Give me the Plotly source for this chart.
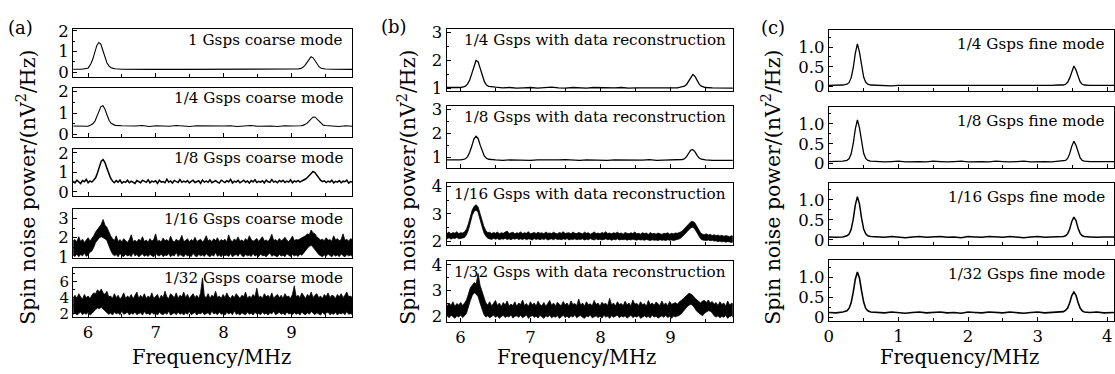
import numpy as np
import plotly.graph_objects as go

# ---------------- data ----------------
# frequency samples (MHz) for the cleaner traces
FREQ_AB = [5.78, 5.9, 6.0, 6.04, 6.07, 6.10, 6.13, 6.16, 6.19, 6.22, 6.25, 6.28, 6.31, 6.34, 6.37, 6.40,
           6.5, 6.6, 6.7, 6.8, 6.9, 7.0, 7.1, 7.2, 7.3, 7.4, 7.5, 7.6, 7.7, 7.8, 7.9, 8.0, 8.1, 8.2, 8.3,
           8.4, 8.5, 8.6, 8.7, 8.8, 8.9, 9.0, 9.1,
           9.14, 9.17, 9.20, 9.23, 9.26, 9.29, 9.32, 9.35, 9.38, 9.41, 9.44, 9.47, 9.50,
           9.6, 9.7, 9.8, 9.9]
FREQ_C = [0.0, 0.1, 0.2, 0.26, 0.29, 0.32, 0.35, 0.38, 0.41, 0.44, 0.47, 0.50, 0.53, 0.56,
          0.6, 0.7, 0.8, 0.9, 1.0, 1.1, 1.2, 1.3, 1.4, 1.5, 1.6, 1.7, 1.8, 1.9, 2.0, 2.1, 2.2, 2.3,
          2.4, 2.5, 2.6, 2.7, 2.8, 2.9, 3.0, 3.1, 3.2, 3.3,
          3.37, 3.40, 3.43, 3.46, 3.49, 3.52, 3.55, 3.58, 3.61, 3.64, 3.67,
          3.75, 3.85, 3.95, 4.1]
# evenly spaced spectrum bins for the noisy (undersampled) traces
FREQ_NOISY = np.linspace(5.78, 9.9, 150)

# (a) coarse mode
A_1GSPS = [0.15, 0.15, 0.2, 0.4, 0.64, 0.98, 1.3, 1.44, 1.35, 1.04, 0.7, 0.45, 0.3, 0.22, 0.19, 0.17,
           0.15, 0.14, 0.14, 0.15, 0.14, 0.14, 0.13, 0.14, 0.14, 0.14, 0.14, 0.13, 0.14, 0.14, 0.13, 0.14,
           0.14, 0.14, 0.13, 0.14, 0.14, 0.14, 0.14, 0.14, 0.15, 0.15, 0.16,
           0.19, 0.24, 0.34, 0.49, 0.65, 0.75, 0.7, 0.55, 0.38, 0.26, 0.2, 0.17, 0.16,
           0.15, 0.15, 0.14, 0.14]
A_1_4 = [0.4, 0.41, 0.39, 0.45, 0.5, 0.61, 0.82, 1.08, 1.3, 1.34, 1.18, 0.91, 0.67, 0.53, 0.47, 0.43,
         0.41, 0.39, 0.4, 0.42, 0.38, 0.41, 0.4, 0.39, 0.42, 0.4, 0.38, 0.41, 0.4, 0.42, 0.39, 0.4,
         0.41, 0.38, 0.4, 0.42, 0.39, 0.41, 0.4, 0.38, 0.41, 0.4, 0.39,
         0.41, 0.43, 0.46, 0.52, 0.63, 0.75, 0.82, 0.81, 0.72, 0.6, 0.5, 0.44, 0.42,
         0.4, 0.38, 0.41, 0.39]
A_1_8 = [0.55, 0.46, 0.6, 0.5, 0.43, 0.58, 0.52, 0.64, 0.47, 0.56,
         0.5, 0.61, 0.72, 0.98, 1.3, 1.58, 1.66, 1.5, 1.22, 0.92,
         0.7, 0.56, 0.47, 0.58, 0.5, 0.61, 0.45, 0.53, 0.49, 0.6,
         0.47, 0.55, 0.5, 0.43, 0.58, 0.52, 0.47, 0.6, 0.54, 0.49,
         0.62, 0.46, 0.55, 0.51, 0.57, 0.44, 0.6, 0.5, 0.53, 0.47,
         0.65, 0.5, 0.56, 0.45, 0.59, 0.52, 0.48, 0.63, 0.49, 0.55,
         0.5, 0.58, 0.46, 0.54, 0.6, 0.48, 0.52, 0.57, 0.44, 0.61,
         0.5, 0.55, 0.49, 0.62, 0.47, 0.53, 0.58, 0.5, 0.45, 0.6,
         0.52, 0.48, 0.57, 0.51, 0.64, 0.46, 0.55, 0.5, 0.59, 0.47,
         0.53, 0.6, 0.49, 0.56, 0.45, 0.58, 0.51, 0.62, 0.48, 0.54,
         0.5, 0.57, 0.46, 0.6, 0.52, 0.49, 0.63, 0.5, 0.55, 0.47,
         0.58, 0.52, 0.6, 0.48, 0.55, 0.5, 0.62, 0.47, 0.56, 0.51,
         0.59, 0.5, 0.56, 0.6, 0.66, 0.74, 0.86, 0.98, 1.05, 0.99,
         0.86, 0.72, 0.6, 0.53, 0.57, 0.48, 0.55, 0.5, 0.6, 0.46,
         0.54, 0.5, 0.58, 0.47, 0.55, 0.52, 0.6, 0.45, 0.53, 0.5]
# very noisy traces: upper / lower envelope of the trace in each bin
A_1_16_HI = [1.85, 1.9, 1.78, 2.05, 1.8, 1.92, 1.75, 1.88, 2.0, 1.82,
             1.95, 2.1, 2.3, 2.45, 2.6, 2.7, 2.95, 2.65, 2.55, 2.3,
             2.1, 1.95, 1.85, 2.1, 1.8, 1.9, 1.78, 1.95, 1.85, 1.75,
             1.9, 2.15, 1.8, 1.86, 1.78, 1.92, 1.84, 2.05, 1.8, 1.88,
             1.76, 1.95, 1.82, 1.9, 2.2, 1.8, 1.86, 1.78, 1.98, 1.84,
             1.9, 1.8, 2.08, 1.85, 1.77, 1.92, 1.83, 1.88, 2.12, 1.8,
             1.85, 1.95, 1.78, 1.9, 1.82, 2.02, 1.8, 1.87, 1.92, 1.78,
             1.88, 2.1, 1.83, 1.9, 1.79, 1.94, 1.85, 2.0, 1.8, 1.9,
             1.84, 1.92, 1.78, 2.15, 1.86, 1.8, 1.93, 1.85, 2.04, 1.82,
             1.88, 1.8, 1.95, 1.84, 2.1, 1.9, 1.82, 1.87, 1.96, 1.8,
             1.9, 2.05, 1.83, 1.88, 1.8, 1.94, 2.18, 1.85, 1.9, 1.82,
             1.96, 1.84, 1.9, 2.02, 1.86, 1.8, 1.92, 2.08, 1.85, 1.9,
             1.88, 1.95, 2.0, 2.05, 2.1, 2.2, 2.15, 2.4, 2.25, 2.2,
             2.05, 1.95, 1.88, 1.92, 1.84, 2.0, 1.86, 1.9, 1.82, 2.1,
             1.88, 1.95, 1.84, 1.9, 2.2, 1.86, 1.92, 1.82, 1.95, 1.9]
A_1_16_LO = [1.08, 1.02, 1.15, 1.0, 1.12, 1.05, 1.2, 1.03, 1.1, 1.25,
             1.3, 1.5, 1.75, 1.9, 2.0, 2.05, 2.0, 1.95, 1.85, 1.6,
             1.35, 1.15, 1.05, 1.12, 1.0, 1.18, 1.06, 1.02, 1.14, 1.04,
             1.1, 1.01, 1.22, 1.05, 1.12, 1.0, 1.08, 1.16, 1.03, 1.1,
             1.02, 1.13, 1.06, 1.0, 1.2, 1.08, 1.04, 1.15, 1.01, 1.1,
             1.06, 1.18, 1.0, 1.1, 1.05, 1.24, 1.02, 1.12, 1.07, 1.0,
             1.15, 1.04, 1.1, 1.01, 1.19, 1.06, 1.0, 1.13, 1.05, 1.1,
             1.02, 1.16, 1.07, 1.0, 1.11, 1.04, 1.22, 1.03, 1.09, 1.0,
             1.14, 1.05, 1.1, 1.02, 1.17, 1.0, 1.08, 1.12, 1.03, 1.2,
             1.06, 1.0, 1.13, 1.05, 1.09, 1.02, 1.18, 1.04, 1.1, 1.01,
             1.15, 1.05, 1.08, 1.0, 1.12, 1.2, 1.03, 1.1, 1.06, 1.0,
             1.13, 1.04, 1.09, 1.01, 1.16, 1.07, 1.02, 1.12, 1.05, 1.1,
             1.02, 1.15, 1.08, 1.2, 1.3, 1.45, 1.55, 1.6, 1.5, 1.4,
             1.25, 1.12, 1.05, 1.0, 1.1, 1.03, 1.15, 1.06, 1.0, 1.12,
             1.04, 1.1, 1.01, 1.16, 1.06, 1.0, 1.12, 1.05, 1.09, 1.02]
A_1_32_HI = [4.0, 4.3, 3.9, 4.5, 4.1, 3.8, 4.4, 4.0, 4.2, 3.9,
             4.3, 4.6, 4.5, 5.0, 4.7, 5.1, 4.6, 4.4, 4.8, 4.1,
             4.2, 3.9, 4.5, 4.0, 4.3, 3.8, 4.1, 4.6, 3.9, 4.2,
             4.0, 4.4, 3.85, 4.2, 4.7, 3.9, 4.3, 4.0, 4.5, 3.9,
             4.2, 4.0, 4.6, 3.9, 4.1, 4.4, 3.8, 4.3, 4.0, 4.8,
             4.1, 3.9, 4.5, 4.2, 4.0, 4.6, 3.9, 4.3, 4.1, 4.7,
             4.0, 4.4, 3.9, 4.2, 4.5, 4.0, 4.3, 3.9, 4.6, 6.5,
             4.2, 4.0, 4.5, 3.9, 4.3, 4.1, 4.8, 4.0, 4.2, 3.9,
             4.4, 4.0, 4.6, 4.1, 3.9, 4.3, 4.0, 4.5, 4.2, 3.9,
             4.3, 4.1, 4.7, 3.9, 4.2, 4.0, 4.4, 4.1, 5.2, 4.0,
             4.2, 3.9, 4.5, 4.1, 4.3, 4.0, 4.6, 3.9, 4.2, 4.4,
             4.0, 4.3, 3.9, 4.5, 4.1, 4.2, 3.9, 4.4, 5.5, 4.1,
             4.3, 4.0, 4.6, 4.2, 3.9, 4.4, 4.1, 4.7, 4.0, 4.3,
             4.5, 4.0, 4.2, 3.9, 4.4, 4.1, 4.6, 4.0, 4.3, 4.2,
             3.9, 4.4, 4.1, 4.5, 4.0, 4.3, 4.7, 4.1, 4.2, 4.0]
A_1_32_LO = [1.9, 2.1, 1.8, 2.0, 2.2, 1.85, 2.05, 1.9, 2.15, 1.8,
             2.0, 2.2, 2.5, 2.7, 2.6, 2.8, 2.5, 2.3, 2.1, 1.9,
             2.05, 1.8, 2.2, 1.95, 2.1, 1.85, 2.3, 1.9, 2.0, 2.15,
             1.8, 2.05, 1.9, 2.2, 1.85, 2.0, 2.1, 1.8, 2.25, 1.95,
             2.0, 1.85, 2.15, 1.9, 2.05, 1.8, 2.2, 1.95, 1.85, 2.1,
             1.9, 2.3, 1.8, 2.0, 2.1, 1.85, 2.2, 1.9, 2.05, 1.8,
             2.1, 1.9, 2.25, 1.85, 2.0, 2.15, 1.8, 2.05, 1.95, 2.2,
             1.85, 2.0, 2.1, 1.8, 2.3, 1.95, 2.05, 1.85, 2.2, 1.9,
             2.0, 1.8, 2.15, 1.95, 2.1, 1.85, 2.35, 1.9, 2.0, 1.8,
             2.1, 1.95, 1.85, 2.2, 1.9, 2.05, 1.8, 2.15, 1.95, 2.0,
             1.85, 2.2, 1.9, 2.05, 1.8, 2.1, 1.95, 2.3, 1.85, 2.0,
             2.15, 1.9, 2.05, 1.8, 2.2, 1.95, 2.0, 1.85, 2.1, 1.9,
             2.05, 1.8, 2.2, 1.95, 1.85, 2.1, 1.9, 2.25, 2.0, 1.85,
             2.1, 1.95, 1.8, 2.15, 1.9, 2.05, 2.2, 1.85, 2.0, 1.9,
             2.15, 1.8, 2.05, 1.95, 2.1, 1.85, 2.25, 1.9, 2.0, 1.85]

# (b) with data reconstruction
B_1_4 = [1.03, 1.02, 1.03, 1.05, 1.08, 1.16, 1.3, 1.53, 1.81, 2.0, 1.96, 1.73, 1.46, 1.24, 1.12, 1.07,
         1.04, 1.02, 1.03, 1.01, 1.02, 1.03, 1.01, 1.02, 1.04, 1.02, 1.01, 1.03, 1.02, 1.01, 1.03, 1.02,
         1.01, 1.02, 1.03, 1.01, 1.02, 1.02, 1.01, 1.03, 1.02, 1.01, 1.02,
         1.04, 1.05, 1.08, 1.14, 1.26, 1.43, 1.5, 1.43, 1.27, 1.15, 1.08, 1.05, 1.03,
         1.02, 1.01, 1.02, 1.01]
B_1_8 = [0.88, 0.87, 0.88, 0.9, 0.93, 1.02, 1.2, 1.46, 1.75, 1.87, 1.78, 1.5, 1.22, 1.04, 0.95, 0.91,
         0.88, 0.86, 0.88, 0.87, 0.89, 0.86, 0.88, 0.87, 0.86, 0.88, 0.89, 0.87, 0.86, 0.88, 0.87, 0.89,
         0.86, 0.88, 0.87, 0.86, 0.88, 0.87, 0.89, 0.86, 0.87, 0.88, 0.87,
         0.88, 0.9, 0.93, 1.02, 1.16, 1.29, 1.31, 1.22, 1.07, 0.96, 0.91, 0.89, 0.88,
         0.86, 0.87, 0.85, 0.86]
B_1_16_HI = [2.32, 2.3, 2.35, 2.28, 2.33, 2.3, 2.36, 2.29, 2.32, 2.31,
             2.35, 2.45, 2.65, 2.9, 3.15, 3.28, 3.33, 3.25, 3.05, 2.78,
             2.55, 2.4, 2.32, 2.34, 2.29, 2.33, 2.3, 2.35, 2.28, 2.32,
             2.3, 2.33, 2.38, 2.29, 2.31, 2.34, 2.28, 2.32, 2.3, 2.35,
             2.29, 2.32, 2.3, 2.36, 2.28, 2.31, 2.33, 2.29, 2.34, 2.3,
             2.32, 2.28, 2.35, 2.3, 2.31, 2.29, 2.34, 2.3, 2.28, 2.33,
             2.3, 2.36, 2.29, 2.31, 2.32, 2.28, 2.35, 2.3, 2.29, 2.33,
             2.31, 2.28, 2.34, 2.3, 2.32, 2.27, 2.3, 2.35, 2.29, 2.31,
             2.28, 2.33, 2.3, 2.36, 2.29, 2.31, 2.28, 2.32, 2.3, 2.34,
             2.29, 2.31, 2.27, 2.33, 2.3, 2.28, 2.32, 2.29, 2.35, 2.28,
             2.3, 2.27, 2.32, 2.29, 2.31, 2.26, 2.33, 2.28, 2.3, 2.27,
             2.31, 2.28, 2.26, 2.3, 2.29, 2.32, 2.27, 2.3, 2.28, 2.31,
             2.3, 2.33, 2.36, 2.42, 2.5, 2.58, 2.66, 2.72, 2.73, 2.68,
             2.56, 2.42, 2.32, 2.27, 2.25, 2.28, 2.24, 2.26, 2.22, 2.25,
             2.21, 2.24, 2.2, 2.23, 2.19, 2.22, 2.2, 2.18, 2.21, 2.19]
B_1_16_LO = [2.12, 2.1, 2.14, 2.09, 2.13, 2.11, 2.15, 2.1, 2.12, 2.13,
             2.15, 2.25, 2.42, 2.68, 2.95, 3.1, 3.14, 3.05, 2.82, 2.55,
             2.32, 2.2, 2.12, 2.1, 2.08, 2.12, 2.09, 2.11, 2.07, 2.1,
             2.09, 2.12, 2.08, 2.1, 2.07, 2.11, 2.09, 2.12, 2.08, 2.1,
             2.08, 2.11, 2.07, 2.1, 2.09, 2.06, 2.11, 2.08, 2.1, 2.07,
             2.1, 2.08, 2.11, 2.06, 2.09, 2.1, 2.07, 2.11, 2.08, 2.09,
             2.07, 2.1, 2.08, 2.11, 2.06, 2.09, 2.08, 2.1, 2.07, 2.09,
             2.08, 2.1, 2.06, 2.09, 2.07, 2.11, 2.08, 2.06, 2.1, 2.07,
             2.09, 2.06, 2.08, 2.1, 2.07, 2.09, 2.05, 2.08, 2.07, 2.1,
             2.06, 2.08, 2.07, 2.09, 2.05, 2.08, 2.06, 2.09, 2.07, 2.05,
             2.08, 2.06, 2.07, 2.05, 2.08, 2.06, 2.04, 2.07, 2.05, 2.06,
             2.04, 2.07, 2.05, 2.06, 2.04, 2.07, 2.05, 2.06, 2.04, 2.06,
             2.09, 2.1, 2.14, 2.2, 2.28, 2.36, 2.44, 2.5, 2.52, 2.46,
             2.34, 2.2, 2.1, 2.06, 2.05, 2.04, 2.06, 2.03, 2.05, 2.02,
             2.03, 2.0, 2.02, 1.99, 2.01, 1.98, 2.0, 1.99, 1.97, 1.99]
B_1_32_HI = [2.45, 2.38, 2.5, 2.4, 2.55, 2.36, 2.48, 2.42, 2.52, 2.4,
             2.5, 2.62, 2.85, 3.1, 3.2, 3.3, 3.25, 3.66, 3.2, 2.95,
             2.7, 2.5, 2.42, 2.55, 2.38, 2.48, 2.6, 2.4, 2.5, 2.36,
             2.52, 2.42, 2.58, 2.38, 2.46, 2.4, 2.55, 2.37, 2.5, 2.44,
             2.62, 2.4, 2.48, 2.36, 2.55, 2.42, 2.5, 2.38, 2.57, 2.43,
             2.4, 2.52, 2.37, 2.48, 2.6, 2.41, 2.5, 2.38, 2.53, 2.45,
             2.39, 2.56, 2.42, 2.5, 2.37, 2.58, 2.44, 2.48, 2.4, 2.65,
             2.42, 2.5, 2.38, 2.55, 2.43, 2.47, 2.39, 2.6, 2.44, 2.5,
             2.37, 2.53, 2.45, 2.49, 2.4, 2.68, 2.42, 2.5, 2.38, 2.55,
             2.44, 2.48, 2.4, 2.57, 2.42, 2.5, 2.38, 2.62, 2.45, 2.49,
             2.4, 2.55, 2.43, 2.48, 2.37, 2.6, 2.44, 2.5, 2.41, 2.54,
             2.46, 2.4, 2.58, 2.43, 2.5, 2.39, 2.56, 2.45, 2.48, 2.52,
             2.45, 2.55, 2.6, 2.68, 2.75, 2.82, 2.88, 2.85, 2.8, 2.7,
             2.62, 2.55, 2.5, 2.58, 2.6, 2.52, 2.62, 2.5, 2.56, 2.45,
             2.52, 2.4, 2.55, 2.44, 2.5, 2.38, 2.58, 2.42, 2.49, 2.46]
B_1_32_LO = [1.95, 2.0, 1.92, 2.02, 1.97, 1.9, 2.0, 1.95, 2.03, 1.93,
             2.0, 2.1, 2.35, 2.6, 2.8, 2.9, 2.85, 2.75, 2.5, 2.25,
             2.05, 1.95, 2.0, 1.92, 1.98, 2.03, 1.94, 2.0, 1.9, 1.97,
             2.02, 1.93, 1.99, 1.95, 2.04, 1.91, 1.98, 2.0, 1.94, 2.02,
             1.92, 1.98, 2.03, 1.9, 1.97, 2.01, 1.94, 1.99, 1.91, 2.02,
             1.96, 1.9, 2.0, 1.95, 2.03, 1.92, 1.98, 1.94, 2.01, 1.9,
             1.97, 2.02, 1.93, 1.99, 1.91, 2.0, 1.95, 2.04, 1.92, 1.98,
             2.01, 1.94, 1.9, 1.99, 1.96, 2.03, 1.92, 1.97, 2.0, 1.93,
             1.98, 1.91, 2.02, 1.95, 1.99, 1.9, 2.01, 1.94, 1.97, 2.03,
             1.92, 1.99, 1.95, 2.0, 1.91, 1.97, 2.02, 1.93, 1.98, 1.95,
             2.01, 1.9, 1.96, 2.0, 1.94, 1.98, 1.92, 2.03, 1.95, 1.99,
             1.91, 1.97, 2.0, 1.94, 2.02, 1.93, 1.98, 1.9, 1.99, 1.96,
             1.98, 2.02, 2.08, 2.15, 2.25, 2.35, 2.42, 2.45, 2.4, 2.3,
             2.18, 2.1, 2.05, 2.0, 2.1, 2.15, 2.2, 2.18, 2.12, 2.0,
             1.95, 2.0, 1.92, 1.98, 1.94, 2.02, 1.9, 1.97, 2.0, 1.93]

# (c) fine mode
C_1_4 = [0.03, 0.03, 0.04, 0.06, 0.1, 0.22, 0.47, 0.84, 1.08, 0.87, 0.5, 0.24, 0.11, 0.06,
         0.04, 0.03, 0.03, 0.02, 0.03, 0.03, 0.02, 0.03, 0.02, 0.03, 0.03, 0.02, 0.03, 0.02,
         0.03, 0.03, 0.02, 0.03, 0.03, 0.02, 0.03, 0.02, 0.03, 0.03, 0.02, 0.03, 0.03, 0.04,
         0.04, 0.06, 0.11, 0.22, 0.4, 0.52, 0.42, 0.24, 0.12, 0.06, 0.04,
         0.03, 0.03, 0.02, 0.03]
C_1_8 = [0.05, 0.05, 0.06, 0.08, 0.12, 0.24, 0.5, 0.87, 1.1, 0.9, 0.53, 0.26, 0.13, 0.08,
         0.06, 0.05, 0.04, 0.05, 0.06, 0.04, 0.05, 0.05, 0.04, 0.06, 0.05, 0.04, 0.05, 0.06,
         0.04, 0.05, 0.05, 0.04, 0.06, 0.05, 0.04, 0.05, 0.06, 0.04, 0.05, 0.05, 0.04, 0.06,
         0.06, 0.08, 0.13, 0.25, 0.44, 0.56, 0.46, 0.27, 0.14, 0.08, 0.06,
         0.05, 0.05, 0.04, 0.05]
C_1_16 = [0.07, 0.06, 0.07, 0.1, 0.14, 0.26, 0.51, 0.87, 1.08, 0.9, 0.54, 0.27, 0.15, 0.1,
          0.08, 0.07, 0.06, 0.08, 0.07, 0.05, 0.07, 0.08, 0.06, 0.07, 0.08, 0.06, 0.07, 0.05,
          0.08, 0.07, 0.06, 0.08, 0.07, 0.06, 0.08, 0.07, 0.05, 0.07, 0.08, 0.06, 0.07, 0.07,
          0.08, 0.1, 0.15, 0.27, 0.46, 0.57, 0.48, 0.29, 0.16, 0.1, 0.08,
          0.07, 0.06, 0.07, 0.07]
C_1_32 = [0.12, 0.11, 0.13, 0.16, 0.22, 0.36, 0.62, 0.95, 1.13, 0.98, 0.66, 0.38, 0.22, 0.16,
          0.13, 0.12, 0.11, 0.13, 0.12, 0.1, 0.12, 0.13, 0.11, 0.12, 0.13, 0.11, 0.12, 0.1,
          0.13, 0.12, 0.11, 0.13, 0.12, 0.11, 0.13, 0.12, 0.1, 0.12, 0.13, 0.11, 0.12, 0.12,
          0.14, 0.17, 0.23, 0.36, 0.54, 0.63, 0.55, 0.37, 0.23, 0.16, 0.13,
          0.12, 0.13, 0.11, 0.12]

LABELS_A = ["1 Gsps coarse mode", "1/4 Gsps coarse mode", "1/8 Gsps coarse mode",
            "1/16 Gsps coarse mode", "1/32 Gsps coarse mode"]
LABELS_B = ["1/4 Gsps with data reconstruction", "1/8 Gsps with data reconstruction",
            "1/16 Gsps with data reconstruction", "1/32 Gsps with data reconstruction"]
LABELS_C = ["1/4 Gsps fine mode", "1/8 Gsps fine mode", "1/16 Gsps fine mode", "1/32 Gsps fine mode"]

# ---------------- layout ----------------
W, H = 1115, 374
FONT = "DejaVu Serif"


def px_x(x0, x1):
    return [x0 / W, x1 / W]


def px_y(top, bottom):
    return [1 - bottom / H, 1 - top / H]


XA = px_x(68.5, 349.3)
XB = px_x(444.0, 731.7)
XC = px_x(828.3, 1115.0)

# each panel: x, y (single line) or (hi, lo) band, xdomain, y px (top,bottom), xrange, yrange,
# y major ticks, their text, y minor ticks, label, line width, label x, label y (domain), y tick font size
panels = [
    (FREQ_AB, A_1GSPS, XA, (23, 73), [5.78, 9.9], [-0.22, 2.09], [0, 1, 2], ["0", "1", "2"], [0.5, 1.5], LABELS_A[0], 1.1, 0.975, 0.78, 16.5),
    (FREQ_AB, A_1_4, XA, (85, 136), [5.78, 9.9], [-0.12, 2.15], [0, 1, 2], ["0", "1", "2"], [0.5, 1.5], LABELS_A[1], 1.1, 0.975, 0.8, 16.5),
    (FREQ_NOISY, A_1_8, XA, (148, 197), [5.78, 9.9], [-0.19, 2.22], [0, 1, 2], ["0", "1", "2"], [0.5, 1.5], LABELS_A[2], 1.5, 0.975, 0.8, 16.5),
    (FREQ_NOISY, (A_1_16_HI, A_1_16_LO), XA, (211, 262), [5.78, 9.9], [0.95, 3.5], [1, 2, 3], ["1", "2", "3"], [1.5, 2.5], LABELS_A[3], 0.8, 0.975, 0.8, 16.5),
    (FREQ_NOISY, (A_1_32_HI, A_1_32_LO), XA, (273, 324), [5.78, 9.9], [1.54, 7.7], [2, 4, 6], ["2", "4", "6"], [3, 5, 7], LABELS_A[4], 0.8, 0.975, 0.8, 15),
    (FREQ_AB, B_1_4, XB, (23.3, 87.3), [5.8, 9.89], [0.92, 3.12], [1, 2, 3], ["1", "2", "3"], [1.5, 2.5], LABELS_B[0], 1.3, 0.982, 0.82, 16.5),
    (FREQ_AB, B_1_8, XB, (103.3, 168.3), [5.8, 9.89], [0.54, 3.14], [1, 2, 3], ["1", "2", "3"], [1.5, 2.5], LABELS_B[1], 1.3, 0.982, 0.82, 16.5),
    (FREQ_NOISY, (B_1_16_HI, B_1_16_LO), XB, (184, 248.3), [5.8, 9.89], [1.89, 4.11], [2, 3, 4], ["2", "3", "4"], [2.5, 3.5], LABELS_B[2], 0.8, 0.982, 0.82, 16.5),
    (FREQ_NOISY, (B_1_32_HI, B_1_32_LO), XB, (265, 329), [5.8, 9.89], [1.76, 4.16], [2, 3, 4], ["2", "3", "4"], [2.5, 3.5], LABELS_B[3], 0.8, 0.982, 0.82, 16.5),
    (FREQ_C, C_1_4, XC, (24, 87.3), [0, 4.096], [-0.1, 1.43], [0, 0.5, 1.0], ["0", "0.5", "1.0"], [0.25, 0.75, 1.25], LABELS_C[0], 1.3, 0.976, 0.77, 16.5),
    (FREQ_C, C_1_8, XC, (104.3, 167.7), [0, 4.096], [-0.1, 1.43], [0, 0.5, 1.0], ["0", "0.5", "1.0"], [0.25, 0.75, 1.25], LABELS_C[1], 1.3, 0.976, 0.77, 16.5),
    (FREQ_C, C_1_16, XC, (184, 249), [0, 4.096], [-0.14, 1.42], [0, 0.5, 1.0], ["0", "0.5", "1.0"], [0.25, 0.75, 1.25], LABELS_C[2], 1.5, 0.976, 0.77, 16.5),
    (FREQ_C, C_1_32, XC, (264.3, 328.3), [0, 4.096], [-0.1, 1.43], [0, 0.5, 1.0], ["0", "0.5", "1.0"], [0.25, 0.75, 1.25], LABELS_C[3], 1.6, 0.976, 0.77, 16.5),
]
bottom_panels = {4, 8, 12}

fig = go.Figure()
layout = dict(width=W, height=H, margin=dict(l=0, r=0, t=0, b=0, pad=0), autosize=False,
              paper_bgcolor="white", plot_bgcolor="white", showlegend=False,
              font=dict(family=FONT, color="black", size=16))
annotations = []

for i, (xs, ys, xdom, ypx, xr, yr, ymaj, ytxt, ymin, label, lw, tx, ty, yfs) in enumerate(panels):
    n = i + 1
    xa = "x" if n == 1 else f"x{n}"
    ya = "y" if n == 1 else f"y{n}"
    if isinstance(ys, tuple):
        hi, lo = ys
        xs = list(xs)
        fig.add_trace(go.Scatter(x=xs + xs[::-1], y=list(hi) + list(lo)[::-1], mode="lines",
                                 fill="toself", fillcolor="black",
                                 line=dict(color="black", width=lw),
                                 xaxis=xa, yaxis=ya, hoverinfo="skip"))
    else:
        fig.add_trace(go.Scatter(x=list(xs), y=ys, mode="lines", line=dict(color="black", width=lw),
                                 xaxis=xa, yaxis=ya, hoverinfo="skip"))
    is_c = xr[0] == 0
    xmaj = [0, 1, 2, 3, 4] if is_c else [6, 7, 8, 9]
    xmin = [0.5, 1.5, 2.5, 3.5] if is_c else [6.5, 7.5, 8.5, 9.5]
    layout["xaxis" if n == 1 else f"xaxis{n}"] = dict(
        domain=xdom, range=xr, anchor=ya, showgrid=False, zeroline=False,
        showline=True, linecolor="black", linewidth=1, mirror=True,
        ticks="inside", ticklen=4, tickwidth=1, tickcolor="black",
        tickmode="array", tickvals=xmaj, ticktext=[str(v) for v in xmaj],
        showticklabels=(i in bottom_panels), tickfont=dict(family=FONT, size=16.5, color="black"),
        minor=dict(ticks="inside", ticklen=3, tickwidth=1, tickcolor="black", tickvals=xmin, showgrid=False),
    )
    layout["yaxis" if n == 1 else f"yaxis{n}"] = dict(
        domain=px_y(*ypx), range=yr, anchor=xa, showgrid=False, zeroline=False,
        showline=True, linecolor="black", linewidth=1, mirror=True,
        ticks="inside", ticklen=4, tickwidth=1, tickcolor="black",
        tickmode="array", tickvals=ymaj, ticktext=ytxt,
        tickfont=dict(family=FONT, size=yfs, color="black"),
        minor=dict(ticks="inside", ticklen=2, tickwidth=1, tickcolor="black", tickvals=ymin, showgrid=False),
    )
    annotations.append(dict(text=label, xref=f"{xa} domain", yref=f"{ya} domain", x=tx, y=ty,
                            xanchor="right", yanchor="middle", showarrow=False,
                            font=dict(family=FONT, size=15.2, color="black")))

# panel letters
for txt, xp, yp in [("(a)", 16, 21), ("(b)", 391, 20), ("(c)", 772, 21)]:
    annotations.append(dict(text=txt, xref="paper", yref="paper", x=xp / W, y=1 - yp / H,
                            xanchor="center", yanchor="middle", showarrow=False,
                            font=dict(family=FONT, size=18, color="black")))
# axis titles
for xp in (208, 575, 960):
    annotations.append(dict(text="Frequency/MHz", xref="paper", yref="paper", x=xp / W, y=1 - 366 / H,
                            xanchor="center", yanchor="middle", showarrow=False,
                            font=dict(family=FONT, size=19.5, color="black")))
for xp in (22, 405, 771):
    annotations.append(dict(text="Spin noise power/(nV<sup>2</sup>/Hz)", xref="paper", yref="paper",
                            x=xp / W, y=1 - 188 / H, textangle=-90,
                            xanchor="center", yanchor="middle", showarrow=False,
                            font=dict(family=FONT, size=20.5, color="black")))

layout["annotations"] = annotations
fig.update_layout(**layout)
fig.write_html("out.html", config={"displayModeBar": False},
               post_script="document.body.style.margin='0px';document.body.style.overflow='hidden';")
